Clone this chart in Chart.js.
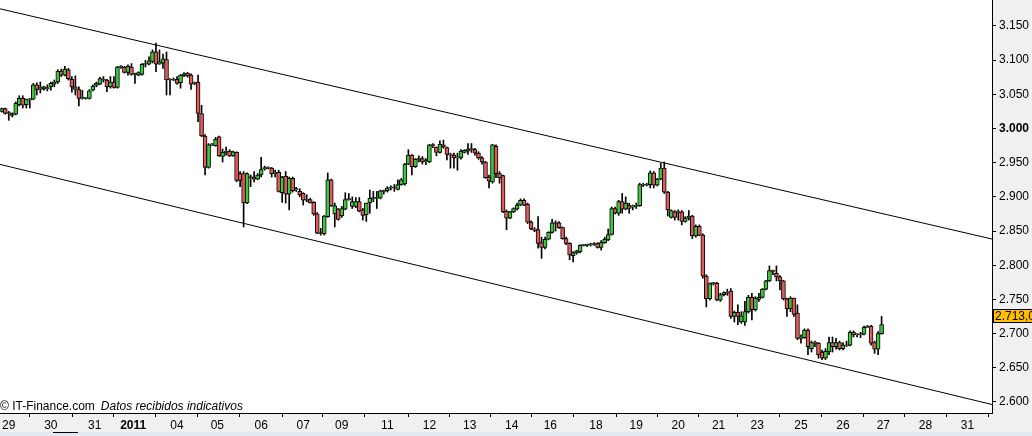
<!DOCTYPE html>
<html><head><meta charset="utf-8">
<script src="https://cdn.jsdelivr.net/npm/chart.js@4"></script>
<style>html,body{margin:0;padding:0;background:#f0f0f0;overflow:hidden}canvas{display:block}</style>
</head><body>
<canvas id="c" width="1032" height="436"></canvas>
<script>
const openP=[
3.025,3.029,3.022,3.022,3.021,3.035,3.044,3.035,3.042,3.043,
3.064,3.057,3.061,3.058,3.061,3.065,3.068,3.084,3.078,3.086,
3.072,3.061,3.057,3.044,3.044,3.044,3.056,3.063,3.065,3.072,
3.071,3.061,3.068,3.060,3.090,3.090,3.082,3.090,3.079,
3.078,3.079,3.094,3.094,3.098,3.112,3.094,3.096,3.101,3.071,
3.072,3.072,3.067,3.077,3.081,3.078,3.066,3.068,3.022,2.989,
2.943,2.976,2.975,2.988,2.959,2.965,2.967,2.960,2.965,2.934,
2.934,2.891,2.929,2.929,2.926,2.932,2.941,2.943,2.942,2.934,
2.936,2.906,2.930,2.904,2.927,2.910,2.908,2.905,2.895,2.896,
2.892,2.875,2.847,2.846,2.871,2.925,2.875,2.882,2.872,2.882,
2.896,2.886,2.886,2.893,2.881,2.874,2.891,2.897,2.898,2.898,
2.909,2.909,2.913,2.914,2.911,2.918,2.919,2.948,2.961,2.944,
2.955,2.956,2.951,2.951,2.976,2.973,2.965,2.976,2.972,2.962,
2.961,2.957,2.957,2.965,2.967,2.970,2.969,2.964,2.957,2.951,
2.929,2.922,2.974,2.934,2.931,2.879,2.869,2.878,2.882,2.888,
2.895,2.889,2.863,2.853,2.852,2.833,2.826,2.838,2.848,2.862,
2.862,2.855,2.839,2.832,2.814,2.818,2.820,2.829,2.829,2.830,
2.830,2.832,2.826,2.833,2.837,2.845,2.883,2.876,2.893,2.882,
2.888,2.885,2.886,2.887,2.918,2.917,2.918,2.935,2.917,2.926,
2.942,2.907,2.870,2.878,2.878,2.878,2.864,2.869,2.872,2.843,
2.857,2.844,2.784,2.751,2.773,2.774,2.749,2.757,2.760,2.762,
2.725,2.731,2.717,2.717,2.732,2.753,2.735,2.750,2.753,2.765,
2.777,2.792,2.788,2.783,2.777,2.751,2.736,2.752,2.730,2.693,
2.694,2.705,2.678,2.687,2.686,2.673,2.664,2.673,2.687,2.681,
2.687,2.678,2.683,2.683,2.702,2.698,2.699,2.699,2.709,2.711,
2.687,2.677,2.700];
const highP=[
3.030,3.030,3.025,3.023,3.039,3.048,3.048,3.043,3.044,3.066,
3.067,3.068,3.062,3.064,3.068,3.071,3.086,3.087,3.091,3.088,
3.076,3.077,3.061,3.056,3.045,3.057,3.064,3.068,3.075,3.076,
3.072,3.076,3.076,3.091,3.092,3.091,3.093,3.095,3.081,
3.083,3.095,3.100,3.105,3.115,3.125,3.115,3.109,3.112,3.073,
3.074,3.076,3.079,3.082,3.082,3.080,3.068,3.078,3.034,2.991,
2.978,2.978,2.987,2.989,2.970,2.973,2.969,2.967,2.966,2.937,
2.937,2.935,2.932,2.937,2.934,2.958,2.945,2.944,2.943,2.939,
2.939,2.930,2.937,2.929,2.929,2.914,2.912,2.906,2.903,2.898,
2.893,2.877,2.854,2.873,2.935,2.926,2.891,2.883,2.886,2.906,
2.905,2.900,2.899,2.899,2.883,2.891,2.910,2.908,2.908,2.910,
2.910,2.915,2.916,2.918,2.925,2.927,2.949,2.969,2.962,2.956,
2.960,2.959,2.956,2.977,2.978,2.973,2.982,2.983,2.973,2.964,
2.964,2.964,2.969,2.969,2.978,2.978,2.971,2.966,2.959,2.952,
2.932,2.977,2.976,2.937,2.932,2.881,2.879,2.884,2.891,2.897,
2.897,2.891,2.865,2.855,2.871,2.841,2.841,2.849,2.867,2.865,
2.864,2.856,2.841,2.833,2.820,2.822,2.830,2.830,2.831,2.832,
2.833,2.833,2.836,2.841,2.853,2.885,2.885,2.895,2.905,2.900,
2.891,2.888,2.891,2.920,2.920,2.920,2.938,2.937,2.927,2.949,
2.951,2.908,2.881,2.880,2.881,2.880,2.871,2.880,2.873,2.859,
2.859,2.846,2.786,2.774,2.775,2.775,2.759,2.761,2.765,2.766,
2.733,2.742,2.732,2.747,2.756,2.759,2.754,2.759,2.766,2.778,
2.799,2.793,2.799,2.785,2.778,2.752,2.754,2.752,2.742,2.698,
2.707,2.707,2.689,2.689,2.687,2.676,2.678,2.695,2.695,2.693,
2.689,2.687,2.689,2.704,2.704,2.700,2.702,2.711,2.712,2.712,
2.689,2.703,2.725];
const lowP=[
3.024,3.021,3.012,3.017,3.020,3.033,3.030,3.030,3.030,3.042,
3.049,3.052,3.056,3.055,3.056,3.061,3.066,3.076,3.077,3.071,
3.053,3.049,3.033,3.043,3.043,3.043,3.055,3.061,3.064,3.068,
3.054,3.059,3.059,3.059,3.088,3.081,3.078,3.078,3.066,
3.077,3.078,3.090,3.093,3.096,3.083,3.094,3.088,3.049,3.049,
3.070,3.065,3.059,3.076,3.075,3.057,3.064,3.010,2.988,2.932,
2.942,2.975,2.974,2.959,2.951,2.961,2.959,2.959,2.922,2.915,
2.856,2.890,2.915,2.922,2.925,2.929,2.939,2.941,2.929,2.929,
2.907,2.892,2.891,2.881,2.907,2.908,2.900,2.888,2.893,2.891,
2.873,2.846,2.844,2.844,2.870,2.886,2.856,2.866,2.870,2.881,
2.895,2.883,2.884,2.878,2.866,2.864,2.876,2.893,2.883,2.897,
2.904,2.907,2.910,2.908,2.910,2.917,2.917,2.947,2.932,2.943,
2.951,2.948,2.947,2.950,2.972,2.960,2.964,2.971,2.954,2.942,
2.942,2.939,2.955,2.964,2.962,2.965,2.961,2.955,2.948,2.927,
2.913,2.920,2.928,2.920,2.877,2.852,2.868,2.877,2.881,2.887,
2.887,2.861,2.852,2.849,2.825,2.810,2.824,2.837,2.847,2.850,
2.854,2.838,2.830,2.808,2.805,2.816,2.818,2.828,2.827,2.828,
2.829,2.825,2.822,2.832,2.836,2.844,2.875,2.873,2.876,2.881,
2.876,2.881,2.883,2.886,2.915,2.916,2.913,2.913,2.916,2.925,
2.905,2.872,2.869,2.866,2.866,2.859,2.863,2.866,2.839,2.841,
2.843,2.781,2.739,2.749,2.771,2.748,2.747,2.755,2.756,2.722,
2.717,2.713,2.715,2.712,2.730,2.720,2.733,2.747,2.752,2.764,
2.776,2.786,2.777,2.764,2.749,2.725,2.732,2.725,2.691,2.686,
2.693,2.669,2.673,2.681,2.664,2.662,2.662,2.669,2.673,2.677,
2.676,2.676,2.681,2.682,2.695,2.695,2.694,2.698,2.709,2.683,
2.671,2.669,2.699];
const closeP=[
3.029,3.022,3.023,3.019,3.037,3.044,3.034,3.043,3.042,3.064,
3.057,3.061,3.058,3.060,3.066,3.068,3.084,3.078,3.087,3.073,
3.061,3.057,3.044,3.044,3.044,3.055,3.062,3.066,3.073,3.071,
3.061,3.068,3.060,3.090,3.090,3.082,3.091,3.079,3.079,
3.082,3.094,3.094,3.099,3.112,3.094,3.098,3.102,3.071,3.072,
3.071,3.066,3.078,3.080,3.077,3.065,3.067,3.022,2.989,2.943,
2.976,2.977,2.984,2.960,2.965,2.966,2.960,2.966,2.924,2.924,
2.891,2.934,2.928,2.926,2.932,2.940,2.943,2.942,2.934,2.935,
2.908,2.929,2.904,2.927,2.909,2.912,2.903,2.895,2.896,2.891,
2.875,2.847,2.846,2.872,2.925,2.887,2.887,2.867,2.883,2.896,
2.897,2.893,2.893,2.879,2.873,2.891,2.898,2.899,2.899,2.909,
2.908,2.913,2.914,2.913,2.918,2.925,2.948,2.961,2.944,2.955,
2.956,2.951,2.953,2.976,2.975,2.965,2.977,2.973,2.962,2.961,
2.957,2.958,2.967,2.968,2.970,2.969,2.964,2.957,2.951,2.928,
2.923,2.976,2.934,2.928,2.878,2.869,2.878,2.883,2.888,2.895,
2.888,2.863,2.853,2.851,2.832,2.826,2.838,2.848,2.862,2.861,
2.855,2.839,2.832,2.815,2.818,2.821,2.829,2.829,2.830,2.830,
2.831,2.826,2.833,2.838,2.845,2.883,2.876,2.893,2.882,2.891,
2.883,2.886,2.887,2.918,2.917,2.918,2.935,2.917,2.926,2.942,
2.907,2.881,2.880,2.870,2.877,2.864,2.869,2.872,2.843,2.857,
2.844,2.784,2.751,2.773,2.774,2.749,2.757,2.760,2.759,2.725,
2.731,2.725,2.726,2.732,2.753,2.735,2.752,2.753,2.765,2.777,
2.792,2.791,2.783,2.777,2.751,2.736,2.752,2.728,2.693,2.695,
2.705,2.681,2.687,2.686,2.669,2.664,2.674,2.687,2.681,2.687,
2.678,2.683,2.682,2.702,2.698,2.699,2.698,2.709,2.710,2.686,
2.677,2.700,2.713];

// Day labels of the time axis and the bar index at which each day starts
const dayLabels=['29','30','31','2011','04','05','06','07','09','11','12','13','14','16','18','19','20','21','23','25','26','27','28','31'];
const dayStartBar=[2,14,26.5,37.5,50,61.5,74,86,97,110,122,133.5,145.5,156.5,169.5,181,193,204.5,215.5,228,240,251.5,263.5,275.5];
const totalBars=283;
const yTicks=[2.60,2.65,2.70,2.75,2.80,2.85,2.90,2.95,3.00,3.05,3.10,3.15];
const yMin=2.5838, yMax=3.188;
// Channel trend lines: price at the first and at the last slot of the axis
const upperChannel=[3.1751,2.8383];
const lowerChannel=[2.9475,2.5962];
const lastPrice=2.713;
const lastPriceLabel='2.713,0';

const FONT='"Liberation Sans", Arial, sans-serif';
const GREEN='#3cc83c', RED='#e05a5a';

const wickData=lowP.map((l,i)=>({x:i,y:[l,highP[i]]}));
const bodyData=openP.map((o,i)=>({x:i,y:[Math.min(o,closeP[i]),Math.max(o,closeP[i])]}));

const bgPlugin={
  id:'bg',
  beforeDraw(chart){
    const {ctx,chartArea:a}=chart;
    ctx.save();
    ctx.fillStyle='#f0f0f0';
    ctx.fillRect(0,0,chart.width,chart.height);
    ctx.fillStyle='#ffffff';
    ctx.fillRect(a.left,a.top,a.right-a.left,a.bottom-a.top);
    ctx.restore();
  },
  afterDraw(chart){
    const {ctx}=chart;
    ctx.save();
    ctx.fillStyle='#e2e9f0';
    ctx.fillRect(0,432,chart.width,4);
    ctx.fillStyle='#000';
    ctx.fillRect(53,432,25,1);
    ctx.fillStyle='#000';
    ctx.textBaseline='alphabetic';
    ctx.font='12px '+FONT;
    const t1='\u00A9 IT-Finance.com';
    ctx.fillText(t1,0,410);
    const w=ctx.measureText(t1).width;
    ctx.font='italic 12px '+FONT;
    ctx.fillText('Datos recibidos indicativos',w+6,410);
    const y=chart.scales.y.getPixelForValue(lastPrice);
    ctx.fillStyle='#ffc000';
    ctx.fillRect(993,Math.round(y-16),40,13);
    ctx.strokeStyle='#000';
    ctx.lineWidth=1;
    ctx.strokeRect(993.5,Math.round(y-16)+0.5,40,13);
    ctx.fillStyle='#000';
    ctx.font='12px '+FONT;
    ctx.fillText(lastPriceLabel,995,Math.round(y-5));
    ctx.restore();
  }
};

new Chart(document.getElementById('c'),{
  data:{
    datasets:[
      {type:'bar',data:wickData,backgroundColor:'#000',barThickness:1,grouped:false,order:3},
      {type:'bar',data:bodyData,
        backgroundColor:(c)=>{const i=c.dataIndex;return closeP[i]>=openP[i]?GREEN:RED;},
        borderColor:'#000',borderWidth:1,borderSkipped:false,barThickness:4,minBarLength:1,grouped:false,order:2},
      {type:'line',data:[{x:-0.5,y:upperChannel[0]},{x:totalBars-0.5,y:upperChannel[1]}],borderColor:'#000',borderWidth:1,pointRadius:0,pointHoverRadius:0,pointBorderWidth:0,fill:false,order:1},
      {type:'line',data:[{x:-0.5,y:lowerChannel[0]},{x:totalBars-0.5,y:lowerChannel[1]}],borderColor:'#000',borderWidth:1,pointRadius:0,pointHoverRadius:0,pointBorderWidth:0,fill:false,order:1}
    ]
  },
  options:{
    responsive:false,animation:false,events:[],
    layout:{padding:0,autoPadding:false},
    plugins:{legend:{display:false},tooltip:{enabled:false},title:{display:false}},
    scales:{
      x:{type:'linear',min:-0.5,max:totalBars-0.5,offset:false,
        afterBuildTicks(s){s.ticks=dayStartBar.map(v=>({value:v}));},
        afterFit(s){s.height=23;s.paddingLeft=0;s.paddingRight=0;},
        ticks:{autoSkip:false,maxRotation:0,minRotation:0,padding:1,color:'#000',
          font:(c)=>({family:FONT,size:12,weight:dayLabels[c.index]==='2011'?'bold':'normal'}),
          callback:(v,i)=>dayLabels[i]},
        grid:{drawOnChartArea:false,drawTicks:true,tickLength:4,color:'#000'},
        border:{display:true,color:'#000',width:1}
      },
      y:{type:'linear',position:'right',min:yMin,max:yMax,
        afterBuildTicks(s){s.ticks=yTicks.map(v=>({value:v}));},
        afterFit(s){s.width=40;s.paddingTop=0;s.paddingBottom=0;},
        ticks:{autoSkip:false,padding:3,color:'#000',
          font:(c)=>({family:FONT,size:12,weight:(Math.abs(yTicks[c.index]-3)<1e-9)?'bold':'normal'}),
          callback:(v)=>Number(v).toFixed(3)},
        grid:{drawOnChartArea:false,drawTicks:true,tickLength:4,color:'#000'},
        border:{display:true,color:'#000',width:1}
      }
    }
  },
  plugins:[bgPlugin]
});
</script>
</body></html>
